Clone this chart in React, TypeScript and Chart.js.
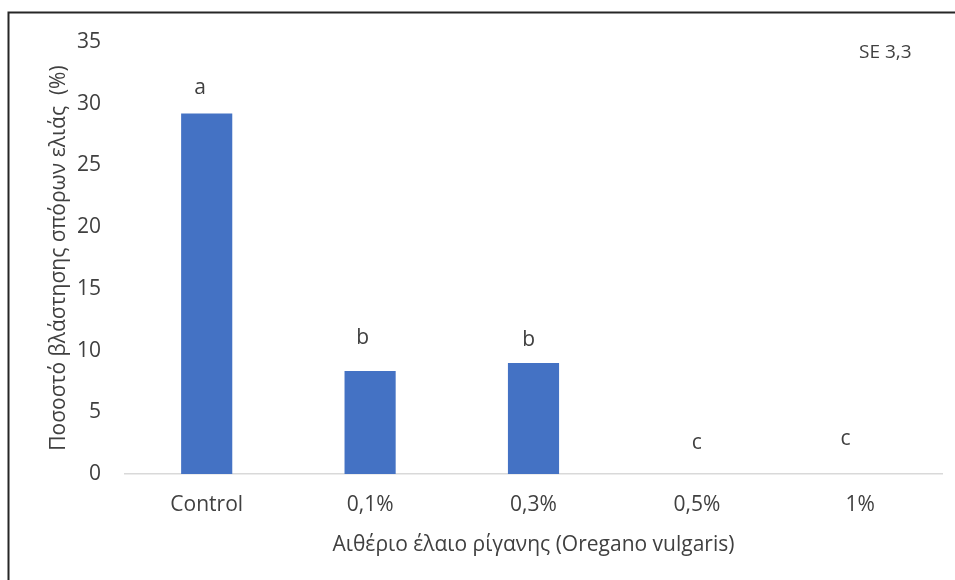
import React, { useEffect, useRef } from "react";
import { Chart, registerables } from "chart.js";

Chart.register(...registerables);

const categories = ["Control", "0,1%", "0,3%", "0,5%", "1%"];
const germination = [29.2, 8.35, 9.0, 0, 0];
const letters = ["a", "b", "b", "c", "c"];
const letterY = [31.3, 11.0, 10.85, 2.5, 2.8];
const letterDx = [-0.04, -0.045, -0.03, 0, -0.09];
const yTitle = "Ποσοστό βλάστησης σπόρων ελιάς  (%)";
const xTitle = "Αιθέριο έλαιο ρίγανης (Oregano vulgaris)";
const seNote = "SE 3,3";

const FONT = "'Open Sans', sans-serif";
const FS = 21;
const TEXT = "#404040";

const decorPlugin = {
  id: "decor",
  afterDraw(chart: any) {
    const { ctx } = chart;
    const xs = chart.scales.x;
    const ys = chart.scales.y;
    ctx.save();
    // frame
    ctx.strokeStyle = "#262626";
    ctx.lineWidth = 2;
    ctx.beginPath();
    ctx.moveTo(8.5, 580);
    ctx.lineTo(8.5, 12.5);
    ctx.lineTo(955, 12.5);
    ctx.stroke();
    // letters
    ctx.fillStyle = TEXT;
    ctx.font = `${FS}px ${FONT}`;
    ctx.textAlign = "center";
    ctx.textBaseline = "middle";
    const step = xs.getPixelForValue(1) - xs.getPixelForValue(0);
    letters.forEach((l, i) => {
      const x = xs.getPixelForValue(i) + letterDx[i] * step;
      const y = ys.getPixelForValue(letterY[i]);
      ctx.fillText(l, x, y);
    });
    // SE note
    ctx.font = `19px ${FONT}`;
    ctx.textAlign = "left";
    ctx.fillText(seNote, 859, 53);
    ctx.restore();
  },
};

export default function App() {
  const ref = useRef<HTMLCanvasElement | null>(null);
  useEffect(() => {
    document.body.style.margin = "0";
    const canvas = ref.current!;
    const chart = new Chart(canvas, {
      type: "bar",
      data: {
        labels: categories,
        datasets: [
          {
            data: germination,
            backgroundColor: "#4472C4",
            categoryPercentage: 1,
            barPercentage: 0.313,
          },
        ],
      },
      options: {
        animation: false,
        responsive: false,
        devicePixelRatio: 1,
        layout: { padding: { left: 0, right: 13, top: 42, bottom: 0 } },
        plugins: {
          legend: { display: false },
          tooltip: { enabled: false },
        },
        scales: {
          x: {
            grid: { display: false },
            border: { display: true, color: "#d9d9d9", width: 1.5 },
            ticks: {
              color: TEXT,
              font: { family: FONT, size: FS },
              padding: 10,
              maxRotation: 0,
            },
            title: {
              display: true,
              text: xTitle,
              color: TEXT,
              font: { family: FONT, size: FS },
              padding: { top: 0, bottom: 22 },
            },
            afterFit(scale: any) {
              scale.height = 106;
            },
          },
          y: {
            min: 0,
            max: 35,
            grid: { display: false },
            border: { display: false },
            ticks: {
              stepSize: 5,
              color: TEXT,
              font: { family: FONT, size: FS },
              padding: 16,
            },
            title: {
              display: true,
              text: yTitle,
              color: TEXT,
              font: { family: FONT, size: FS },
              padding: { top: 46, bottom: 0 },
            },
            afterFit(scale: any) {
              scale.width = 125;
            },
          },
        },
      },
      plugins: [decorPlugin],
    });
    return () => chart.destroy();
  }, []);
  return (
    <div style={{ width: 955, height: 580, background: "#fff" }}>
      <canvas ref={ref} width={955} height={580} style={{ display: "block" }} />
    </div>
  );
}
